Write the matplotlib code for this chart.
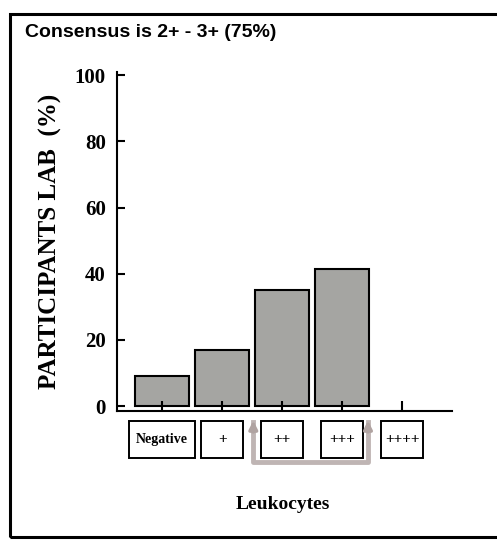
import matplotlib.pyplot as plt
from matplotlib.patches import Rectangle

categories = ['Negative', '+', '++', '+++', '++++']
percent = [9, 17, 35, 41.5, 0]
yticks = [0, 20, 40, 60, 80, 100]

fig = plt.figure(figsize=(4.97, 5.40), dpi=100)
ax = fig.add_axes([0.2354, 0.2389, 0.6741, 0.6278])

x = list(range(len(categories)))
ax.bar(x, percent, width=0.9, color='#a5a5a2', edgecolor='black',
       linewidth=[1.5 if v > 0 else 0 for v in percent])

ax.set_xlim(-0.75, 4.83)
ax.set_ylim(-1.5, 101)
ax.set_yticks(yticks)
ax.set_yticklabels([str(v) for v in yticks], family='Liberation Serif',
                   fontweight='bold', fontsize=15)
ax.tick_params(axis='y', direction='in', length=6, width=1.5, pad=8)
ax.set_xticks(x)
ax.set_xticklabels([])
ax.tick_params(axis='x', direction='in', length=7, width=1.5)

for s in ['top', 'right']:
    ax.spines[s].set_visible(False)
for s in ['left', 'bottom']:
    ax.spines[s].set_linewidth(1.5)

# boxed category labels under the axis
tr = ax.get_xaxis_transform()
for xi, lab in zip(x, categories):
    w = 1.1 if lab == 'Negative' else 0.7
    ax.add_patch(Rectangle((xi - w / 2, -0.138), w, 0.108, transform=tr,
                           fc='white', ec='black', lw=1.4, clip_on=False))
    ax.text(xi, -0.084, lab, transform=tr, ha='center', va='center',
            family='Liberation Serif', fontweight='bold',
            fontsize=10 if lab == 'Negative' else 11, clip_on=False)

# grey consensus bracket (++ to +++)
br = dict(color='#b0a3a1', lw=3.5, alpha=0.8, clip_on=False, transform=tr)
ax.plot([1.52, 1.52, 3.43, 3.43], [-0.032, -0.15, -0.15, -0.032], **br)
for bx in [1.52, 3.43]:
    ax.annotate('', xy=(bx, -0.02), xytext=(bx, -0.07), xycoords=tr,
                arrowprops=dict(arrowstyle='-|>', color='#b0a3a1', lw=2.5,
                                mutation_scale=12), annotation_clip=False)

ax.set_ylabel('PARTICIPANTS LAB  (%)', family='Liberation Serif',
              fontweight='bold', fontsize=18, labelpad=9)
fig.text(0.57, 0.065, 'Leukocytes', ha='center', va='center',
         family='Liberation Serif', fontweight='bold', fontsize=14)

fig.text(0.05, 0.94, 'Consensus is 2+ - 3+ (75%)', ha='left', va='center',
         family='Liberation Sans', fontweight='bold', fontsize=14)

fig.patches.append(Rectangle((0.02, 0.005), 1.0, 0.969, transform=fig.transFigure,
                             fill=False, ec='black', lw=2.2))

fig.savefig('out.png', dpi=100)
